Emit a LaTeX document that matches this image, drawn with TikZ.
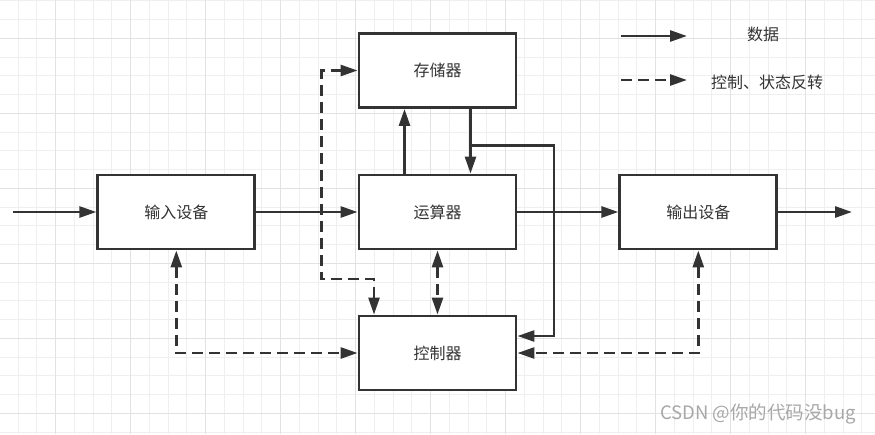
\documentclass[tikz,border=0pt]{standalone}
\usepackage{fontspec}
\setmainfont{Noto Sans CJK SC}
\usetikzlibrary{arrows.meta}
\definecolor{ink}{HTML}{333333}
\definecolor{minorc}{HTML}{EFEFEF}
\definecolor{majorc}{HTML}{E2E2E2}
\definecolor{wmark}{HTML}{A8A8A8}
\begin{document}
\begin{tikzpicture}[x=1pt,y=-1pt,
  >={Triangle[length=17pt,width=11pt]},
  box/.style={draw=ink, line width=2.9pt, fill=white, minimum width=157pt, minimum height=74pt, inner sep=0pt, text=ink, font=\fontsize{16}{19}\selectfont},
  data/.style={draw=ink, line width=2.7pt, ->},
  ctl/.style={draw=ink, line width=2.7pt, dash pattern=on 11pt off 6pt, <->},
  ctlone/.style={draw=ink, line width=2.7pt, dash pattern=on 11pt off 6pt, ->},
  lbl/.style={text=ink, font=\fontsize{16}{19}\selectfont, inner sep=0pt},
  minorgrid/.style={draw=minorc, line width=1pt},
  majorgrid/.style={draw=majorc, line width=1pt}
]
\useasboundingbox (0,0) rectangle (875,434);
\fill[white] (0,0) rectangle (875,434);
% grid
\foreach \i in {0,...,47} { \draw[minorgrid] ({-0.55+18.75*\i},0) -- ({-0.55+18.75*\i},434); }
\foreach \j in {0,...,23} { \draw[minorgrid] (0,{0.8+18.75*\j}) -- (875,{0.8+18.75*\j}); }
\foreach \i in {0,...,11} { \draw[majorgrid] ({55.7+75*\i},0) -- ({55.7+75*\i},434); }
\foreach \j in {0,...,5} { \draw[majorgrid] (0,{38.3+75*\j}) -- (875,{38.3+75*\j}); }

% boxes
\node[box] (mem)  at (437.5,70.5) {存储器};
\node[box] (alu)  at (437.5,212) {运算器};
\node[box] (ctrl) at (437.5,353) {控制器};
\node[box] (in)   at (176.3,212) {输入设备};
\node[box] (out)  at (698.3,212) {输出设备};

% data connectors
\coordinate (src) at (13,212);
\coordinate (sink) at (852,212);
\draw[data] (src) -- (in.west);
\draw[data] (in.east) -- (alu.west);
\draw[data] (alu.east) -- (out.west);
\draw[data] (out.east) -- (sink);
\draw[data] ([xshift=-33pt]alu.north) -- ([xshift=-33pt]mem.south);
\draw[data] ([xshift=33pt]mem.south) -- ([xshift=33pt]alu.north);
\coordinate (j1) at (554,145.5);
\coordinate (j2) at (554,336);
\draw[data] ([xshift=33pt]mem.south) |- (j1) -- (j2) -- (j2 -| ctrl.east);

% control connectors
\coordinate (k1) at (374,279);
\coordinate (k2) at (321.7,279);
\draw[ctl] (k1 |- ctrl.north) -- (k1) -- (k2) -- (k2 |- mem.west) -- (mem.west);
\draw[ctl] (alu.south) -- (ctrl.north);
\draw[ctl] (in.south) |- (ctrl.west);
\draw[ctl] (out.south) |- (ctrl.east);

% legend
\coordinate (la) at (621,36);
\coordinate (lb) at (687,36);
\coordinate (lc) at (621,80);
\coordinate (ld) at (687,80);
\draw[data] (la) -- (lb);
\draw[ctlone] (lc) -- (ld);
\node[lbl] (t1) at (763,34) {数据};
\node[lbl] (t2) at (767,82) {控制、状态反转};

% watermark
\node[text=wmark, font=\fontsize{18.5}{22}\selectfont, inner sep=0pt] (wm) at (758,414) {CSDN @你的代码没bug};
\end{tikzpicture}
\end{document}
